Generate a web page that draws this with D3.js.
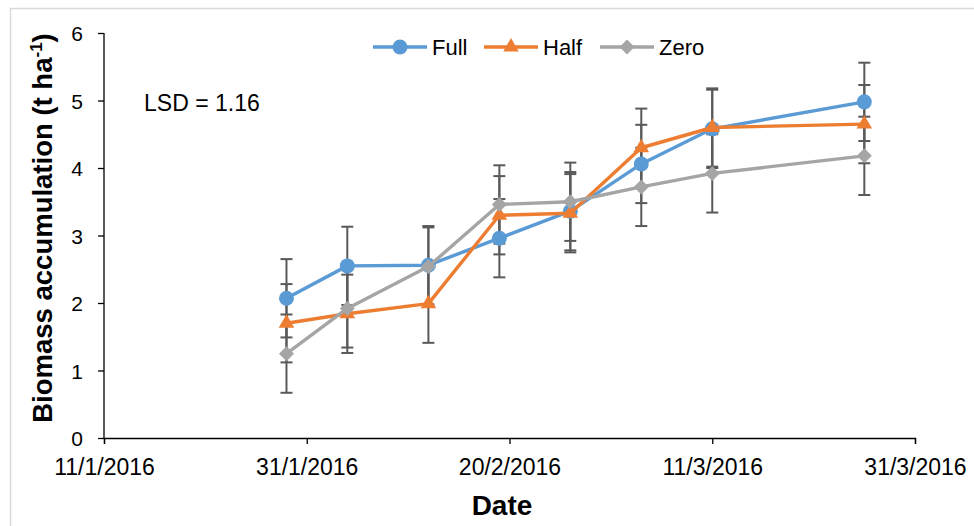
<!DOCTYPE html>
<html lang="en">
<head>
    <meta charset="utf-8">
    <title>Biomass accumulation</title>
    <style>
        body { margin: 0; background: #fff; }
        svg { display: block; font-family: "Liberation Sans", Arial, sans-serif; }
        .axis path, .axis line { stroke: #000; stroke-width: 1.3px; }
        .axis text { fill: #000; font-family: "Liberation Sans", Arial, sans-serif; }
        .errbar { stroke: #595959; stroke-width: 2px; }
    </style>
</head>
<body>
    <svg></svg>
    <script src="https://d3js.org/d3.v7.min.js"></script>
    <script>
        // sampling dates
        var dates = ["2016-01-29", "2016-02-04", "2016-02-12", "2016-02-19",
                     "2016-02-26", "2016-03-04", "2016-03-11", "2016-03-26"];
        var full = [2.07, 2.55, 2.56, 2.96, 3.36, 4.06, 4.58, 4.98];
        var half = [1.70, 1.84, 1.99, 3.30, 3.33, 4.30, 4.60, 4.65];
        var zero = [1.25, 1.92, 2.54, 3.46, 3.50, 3.72, 3.92, 4.18];
        var errHalf = 0.58;  // LSD / 2
        var xTicks = ["2016-01-11", "2016-01-31", "2016-02-20", "2016-03-11", "2016-03-31"];
        var yTicks = [0, 1, 2, 3, 4, 5, 6];

        var parse = d3.timeParse("%Y-%m-%d");
        var fmt = d3.timeFormat("%-d/%-m/%Y");

        var series = [
            { name: "Full", values: full, color: "#5B9BD5", shape: "circle" },
            { name: "Half", values: half, color: "#ED7D31", shape: "triangle" },
            { name: "Zero", values: zero, color: "#A5A5A5", shape: "diamond" }
        ];

        var svg = d3.select("svg").attr("width", 974).attr("height", 526);

        // outer frame
        svg.append("rect")
            .attr("x", 10.5).attr("y", 8.5)
            .attr("width", 980).attr("height", 540)
            .attr("fill", "none").attr("stroke", "#d9d9d9").attr("stroke-width", 1.5);

        var x = d3.scaleTime()
            .domain([parse(xTicks[0]), parse(xTicks[xTicks.length - 1])])
            .range([104, 915]);
        var y = d3.scaleLinear().domain([0, 6]).range([438, 33]);

        svg.append("g").attr("class", "axis")
            .attr("transform", "translate(0,438)")
            .call(d3.axisBottom(x).tickValues(xTicks.map(parse)).tickFormat(fmt)
                .tickSizeOuter(0).tickSize(6))
            .call(g => g.selectAll("text").attr("y", 37).attr("dy", 0).attr("font-size", 23));

        svg.append("g").attr("class", "axis")
            .attr("transform", "translate(104,0)")
            .call(d3.axisLeft(y).tickValues(yTicks).tickFormat(d3.format("d"))
                .tickSizeOuter(0).tickSize(6).tickPadding(15))
            .call(g => g.select(".domain").attr("d", "M0," + y(6) + "V" + y(0)))
            .call(g => g.selectAll("text").attr("font-size", 21).attr("dy", "0.36em"));

        // axis titles
        svg.append("text")
            .attr("x", 502).attr("y", 515)
            .attr("text-anchor", "middle")
            .attr("font-size", 28).attr("font-weight", "bold")
            .text("Date");

        var yt = svg.append("text")
            .attr("transform", "translate(52,228) rotate(-90)")
            .attr("text-anchor", "middle")
            .attr("font-size", 27.5).attr("font-weight", "bold");
        yt.append("tspan").text("Biomass accumulation (t ha");
        yt.append("tspan").attr("font-size", 17).attr("dy", -10).text("-1");
        yt.append("tspan").attr("dy", 10).text(")");

        svg.append("text")
            .attr("x", 144).attr("y", 111)
            .attr("font-size", 23)
            .text("LSD = 1.16");

        function marker(sel, shape, color) {
            if (shape === "circle") {
                sel.append("circle").attr("r", 7.5).attr("fill", color);
            } else if (shape === "triangle") {
                sel.append("path").attr("d", d3.symbol(d3.symbolTriangle, 105)()).attr("fill", color);
            } else {
                sel.append("path").attr("d", "M0,-7.5L7.5,0L0,7.5L-7.5,0Z").attr("fill", color);
            }
        }

        // error bars (under the series)
        series.forEach(function (s) {
            var eb = svg.append("g");
            s.values.forEach(function (v, i) {
                var cx = x(parse(dates[i]));
                var y1 = y(v + errHalf), y2 = y(v - errHalf);
                eb.append("line").attr("class", "errbar")
                    .attr("x1", cx).attr("x2", cx).attr("y1", y1).attr("y2", y2);
                [y1, y2].forEach(function (yy) {
                    eb.append("line").attr("class", "errbar")
                        .attr("x1", cx - 6).attr("x2", cx + 6).attr("y1", yy).attr("y2", yy);
                });
            });
        });

        var line = d3.line()
            .x((d, i) => x(parse(dates[i])))
            .y(d => y(d));

        series.forEach(function (s) {
            svg.append("path")
                .attr("d", line(s.values))
                .attr("fill", "none")
                .attr("stroke", s.color)
                .attr("stroke-width", 3.4)
                .attr("stroke-linejoin", "round");
            s.values.forEach(function (v, i) {
                var g = svg.append("g")
                    .attr("transform", "translate(" + x(parse(dates[i])) + "," + y(v) + ")");
                marker(g, s.shape, s.color);
            });
        });

        // legend
        var legX = [373, 484, 600];
        series.forEach(function (s, i) {
            var g = svg.append("g").attr("transform", "translate(" + legX[i] + ",47)");
            g.append("line").attr("x1", 0).attr("x2", 54)
                .attr("stroke", s.color).attr("stroke-width", 3.4);
            var m = g.append("g").attr("transform", "translate(27,0)");
            marker(m, s.shape, s.color);
            g.append("text").attr("x", 59).attr("y", 8)
                .attr("font-size", 22).text(s.name);
        });
    </script>
</body>
</html>
